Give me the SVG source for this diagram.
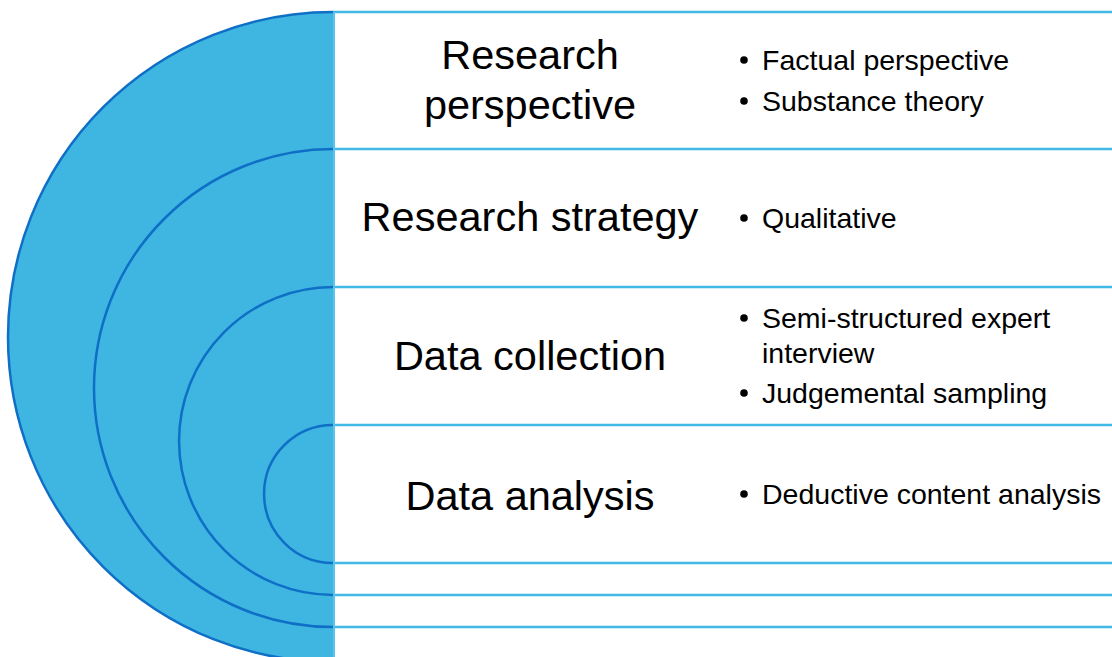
<svg xmlns="http://www.w3.org/2000/svg" width="1112" height="657" viewBox="0 0 1112 657">
  <style>
    .band { fill: #3EB6E1; stroke: none; }
    .ring { fill: none; stroke: #0F6FC6; stroke-width: 2.5; }
    .rule { fill: none; stroke: #41B8E6; stroke-width: 2.5; }
    .edge { fill: none; stroke: #5CC3EC; stroke-width: 2; }
    .title { font-family: "Liberation Sans", Arial, sans-serif; font-size: 41.5px; fill: #000; text-anchor: middle; }
    .item { font-family: "Liberation Sans", Arial, sans-serif; font-size: 28.5px; fill: #000; }
    .dot { fill: #000; }
  </style>

  <!-- solid half-disc behind all rings -->
  <path class="band" d="M333,12 A325,325 0 0 0 333,662 Z"/>

  <g id="layer-perspective">
    <path class="ring" d="M333,12 A325,325 0 0 0 333,662"/>
    <line class="rule" x1="333" y1="12" x2="1112" y2="12"/>
    <text class="title" x="530" y="69">Research</text>
    <text class="title" x="530" y="119">perspective</text>
    <circle class="dot" cx="744" cy="60" r="3.8"/>
    <text class="item" x="762" y="70">Factual perspective</text>
    <circle class="dot" cx="744" cy="101" r="3.8"/>
    <text class="item" x="762" y="111">Substance theory</text>
  </g>

  <g id="layer-strategy">
    <path class="ring" d="M333,149 A239,239 0 0 0 333,627"/>
    <line class="rule" x1="333" y1="149" x2="1112" y2="149"/>
    <text class="title" x="530" y="231">Research strategy</text>
    <circle class="dot" cx="744" cy="218" r="3.8"/>
    <text class="item" x="762" y="228">Qualitative</text>
  </g>

  <g id="layer-collection">
    <path class="ring" d="M333,287 A154,154 0 0 0 333,595"/>
    <line class="rule" x1="333" y1="287" x2="1112" y2="287"/>
    <text class="title" x="530" y="370">Data collection</text>
    <circle class="dot" cx="744" cy="318" r="3.8"/>
    <text class="item" x="762" y="328">Semi-structured expert</text>
    <text class="item" x="762" y="363">interview</text>
    <circle class="dot" cx="744" cy="393" r="3.8"/>
    <text class="item" x="762" y="403">Judgemental sampling</text>
  </g>

  <g id="layer-analysis">
    <path class="ring" d="M333,425 A69,69 0 0 0 333,563"/>
    <line class="rule" x1="333" y1="425" x2="1112" y2="425"/>
    <text class="title" x="530" y="510">Data analysis</text>
    <circle class="dot" cx="744" cy="494" r="3.8"/>
    <text class="item" x="762" y="504">Deductive content analysis</text>
  </g>

  <g id="connectors">
    <line class="rule" x1="333" y1="563" x2="1112" y2="563"/>
    <line class="rule" x1="333" y1="595" x2="1112" y2="595"/>
    <line class="rule" x1="333" y1="627" x2="1112" y2="627"/>
    <line class="edge" x1="334" y1="12" x2="334" y2="657"/>
  </g>
</svg>
